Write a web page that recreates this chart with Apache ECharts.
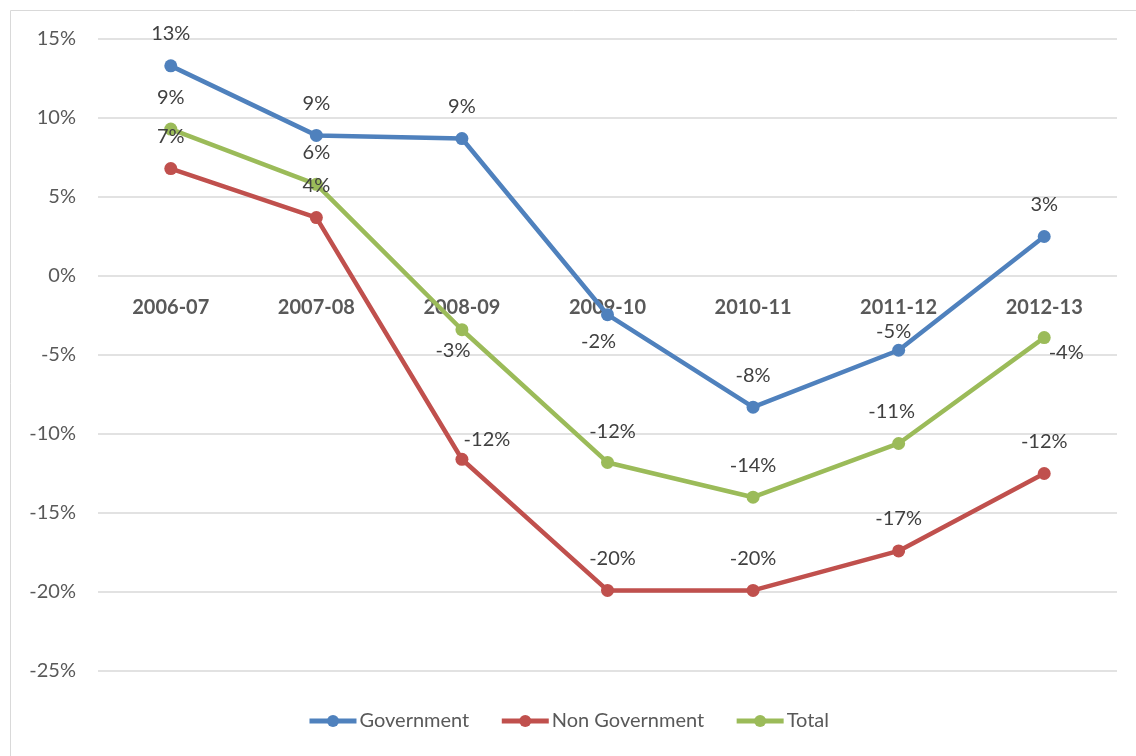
<!DOCTYPE html>
<html>
<head>
<meta charset="utf-8">
<script src="https://cdn.jsdelivr.net/npm/echarts@6/dist/echarts.min.js"></script>
<style>
  html, body { margin: 0; padding: 0; background: #fff; }
  #chart { width: 1136px; height: 756px; }
</style>
</head>
<body>
<div id="chart"></div>
<script>
  // 数据
  const categories = ['2006-07', '2007-08', '2008-09', '2009-10', '2010-11', '2011-12', '2012-13'];
  const government = [13.3, 8.9, 8.7, -2.45, -8.3, -4.7, 2.5];
  const nonGovernment = [6.8, 3.7, -11.6, -19.9, -19.9, -17.4, -12.5];
  const total = [9.3, 5.8, -3.4, -11.8, -14.0, -10.6, -3.9];
  const seriesNames = ['Government', 'Non Government', 'Total'];
  const colors = ['#4f81bd', '#c0504d', '#9bbb59'];

  const font = 'Lato, "Open Sans", sans-serif';

  // 标签偏移（默认在点上方）
  const labelOffsets = [
    { 3: [-9, 27], 5: [-5, -19] },
    { 2: [25, -20], 3: [5, -32] },
    { 2: [-9, 21], 3: [5, -31], 5: [-7, -32], 6: [22, 15] }
  ];

  function buildData(values, k) {
    return values.map(function (v, i) {
      return {
        value: v,
        label: { offset: labelOffsets[k][i] || [0, -32] }
      };
    });
  }

  const allValues = [government, nonGovernment, total];

  // 网格位置：0% 线在 y=276，网格底部在 y=671
  const gridTop = 39, gridBottom = 85, chartH = 756;
  const yMin = -25, yMax = 15;
  const plotH = chartH - gridTop - gridBottom;
  const zeroShift = -plotH * (0 - yMin) / (yMax - yMin);

  const option = {
    color: colors,
    animation: false,
    textStyle: { fontFamily: font },
    graphic: [{
      type: 'rect',
      shape: { x: 10.5, y: 10.5, width: 1200, height: 1000 },
      style: { fill: 'none', stroke: '#d9d9d9', lineWidth: 1 },
      silent: true
    }],
    grid: { left: 98, right: 19, top: gridTop, bottom: gridBottom },
    legend: {
      bottom: 20,
      itemWidth: 47,
      itemHeight: 15,
      itemGap: 30,
      lineStyle: { width: 5 },
      textStyle: { color: '#595959', fontSize: 20, fontFamily: font, padding: [0, 0, 0, -2] },
      data: seriesNames
    },
    xAxis: {
      type: 'category',
      data: categories,
      // 把分类标签移到0线下面
      offset: zeroShift,
      axisLine: { show: false, onZero: false },
      axisTick: { show: false },
      axisLabel: {
        color: '#595959',
        fontSize: 20,
        fontWeight: 'bold',
        fontFamily: font,
        margin: 22
      }
    },
    yAxis: {
      type: 'value',
      min: yMin,
      max: yMax,
      interval: 5,
      axisLine: { show: false },
      axisTick: { show: false },
      axisLabel: {
        color: '#595959',
        fontSize: 20,
        fontFamily: font,
        margin: 22,
        formatter: '{value}%'
      },
      splitLine: { lineStyle: { color: '#d9d9d9', width: 1.5 } }
    },
    series: []
  };

  for (let k = 0; k < seriesNames.length; k++) {
    option.series.push({
      name: seriesNames[k],
      type: 'line',
      data: buildData(allValues[k], k),
      symbol: 'circle',
      symbolSize: 13,
      lineStyle: { width: 4.5 },
      label: {
        show: true,
        position: 'inside',
        color: '#404040',
        fontSize: 20,
        fontFamily: font,
        formatter: function (p) { return Math.round(p.value) + '%'; }
      }
    });
  }

  const myChart = echarts.init(document.getElementById('chart'));
  myChart.setOption(option);
  window.addEventListener('resize', function () { myChart.resize(); });
</script>
</body>
</html>
